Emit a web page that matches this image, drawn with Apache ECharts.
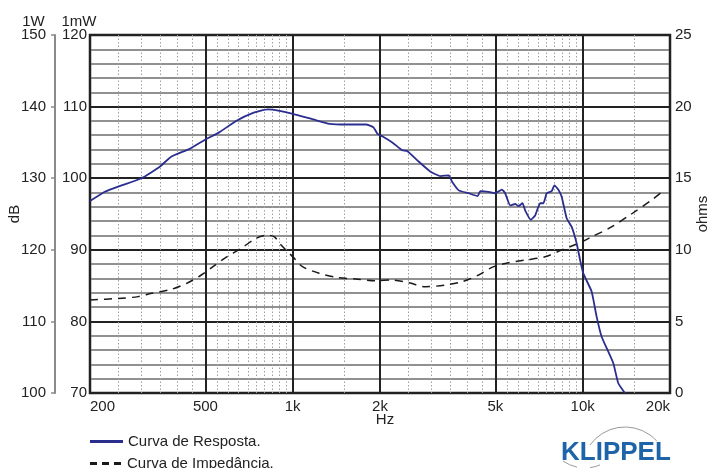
<!DOCTYPE html>
<html><head><meta charset="utf-8">
<script src="https://cdn.jsdelivr.net/npm/echarts@6/dist/echarts.min.js"></script>
<style>html,body{margin:0;padding:0;background:#fff}#c{width:710px;height:468px}</style>
</head><body><div id="c"></div>
<script>
// ---- data ----
const responseFreq = [200,225,253,301,348,381,441,500,558,638,727,820,900,1000,1180,1340,1530,1790,1900,1960,2050,2205,2386,2480,2724,2988,3233,3452,3545,3738,4044,4342,4437,4738,4995,5265,5403,5624,5852,6006,6200,6333,6622,6856,7134,7319,7515,7817,7987,8244,8463,8805,9162,9532,9792,10047,10728,11164,11614,12743,13254,13977];
const responseDb = [126.8,128.1,128.9,130.0,131.6,133.0,134.1,135.4,136.4,138.0,139.1,139.6,139.4,139.0,138.2,137.6,137.5,137.5,137.1,136.2,135.8,135.0,133.9,133.8,132.3,130.9,130.3,130.4,129.5,128.3,127.9,127.5,128.2,128.1,127.9,128.4,127.9,126.2,126.4,126.1,126.5,125.5,124.2,124.8,126.5,126.5,127.9,128.2,129.0,128.4,127.4,124.4,123.2,120.9,118.6,116.7,114.2,110.7,107.9,104.2,101.4,100.0];
const impedanceFreq = [200,250,293,326,382,435,484,531,582,664,748,820,865,912,974,1013,1081,1234,1408,1650,1933,2205,2517,2871,3363,3835,4377,4864,5406,6333,7420,8463,9657,10728,12571,14723,17250,18929];
const impedanceOhm = [6.5,6.6,6.73,6.96,7.24,7.7,8.24,8.82,9.4,10.1,10.8,11.02,10.9,10.33,9.75,9.4,8.82,8.36,8.08,7.96,7.84,7.89,7.7,7.42,7.54,7.77,8.24,8.77,9.05,9.28,9.51,9.98,10.45,10.9,11.6,12.5,13.46,14.1];
const xMajorTicks = [200,500,1000,2000,5000,10000,20000];
const xTickLabels = ['200','500','1k','2k','5k','10k','20k'];
const xMinorTicks = [250,300,350,400,450,550,600,650,700,750,800,850,900,950,1500,2500,3000,3500,4000,4500,5500,6000,6500,7000,7500,8000,8500,9000,9500,15000];
const seriesNames = ['Curva de Resposta.','Curva de Impedância.'];

// ---- chart ----
const FONT = 'Liberation Sans, Arial, sans-serif';
const TXT = '#222';
const lg = Math.log10;
const xMin = 200, xMax = 20000;
const majorLog = xMajorTicks.map(lg);
const minorLog = xMinorTicks.map(lg);
function fmtX(v){
  const f = Math.round(Math.pow(10, v));
  const i = xMajorTicks.findIndex(t => Math.abs(t - f) < 1);
  return i >= 0 ? xTickLabels[i] : '';
}
const chart = echarts.init(document.getElementById('c'), null, {renderer:'canvas'});
const txt = {fontFamily: FONT, fontSize: 15, color: TXT};
const legendBase = {orient: 'vertical', left: 90, padding: 0, itemWidth: 33, itemHeight: 3,
  textStyle: {fontFamily: FONT, fontSize: 15, color: TXT}};
chart.setOption({
  animation: false,
  backgroundColor: '#fff',
  textStyle: {fontFamily: FONT},
  grid: {left: 90, right: 40, top: 35, bottom: 75, outerBoundsMode: 'none', containLabel: false,
    show: true, borderColor: '#222', borderWidth: 2.5, backgroundColor: 'transparent'},
  legend: [
    Object.assign({top: 434, data: [seriesNames[0]], icon: 'rect'}, legendBase),
    Object.assign({top: 456, data: [seriesNames[1]],
      icon: 'path://M0,0h7v3h-7zM12,0h7v3h-7zM24,0h7v3h-7z'}, legendBase)
  ],
  xAxis: [
    {type: 'log', logBase: 10, min: xMin, max: xMax, show: false},
    {type: 'value', min: lg(xMin), max: lg(xMax), position: 'bottom',
      axisLine: {show: false}, axisTick: {show: false, customValues: majorLog},
      axisLabel: Object.assign({customValues: majorLog, formatter: fmtX, margin: 6, alignMinLabel: 'left', alignMaxLabel: 'right'}, txt),
      splitLine: {show: true, lineStyle: {color: '#222', width: 2}},
      name: 'Hz', nameLocation: 'middle', nameGap: 19, nameMoveOverlap: false,
      nameTextStyle: Object.assign({padding: [0, 0, 0, 10]}, txt)},
    {type: 'value', min: lg(xMin), max: lg(xMax), position: 'top',
      axisLine: {show: false}, axisTick: {show: false, customValues: minorLog},
      axisLabel: {show: false},
      splitLine: {show: true, lineStyle: {color: '#a0a0a0', width: 1, type: [1.5, 2]}}}
  ],
  yAxis: [
    {type: 'value', min: 100, max: 150, interval: 10, position: 'left', offset: 35,
      axisLine: {show: true, lineStyle: {color: '#8a8a8a', width: 2}},
      axisTick: {show: true, length: 4, lineStyle: {color: '#8a8a8a', width: 1.5}},
      axisLabel: Object.assign({margin: 9}, txt),
      splitLine: {show: false},
      name: 'dB', nameLocation: 'middle', nameGap: 33, nameRotate: 90, nameMoveOverlap: false, nameTextStyle: txt},
    {type: 'value', min: 70, max: 120, interval: 10, position: 'left',
      axisLine: {show: false}, axisTick: {show: false},
      axisLabel: Object.assign({margin: 3}, txt),
      splitLine: {show: true, lineStyle: {color: '#222', width: 2}},
      minorTick: {show: false, splitNumber: 5},
      minorSplitLine: {show: true, lineStyle: {color: '#6e6e6e', width: 1.5}},
      name: '1mW', nameLocation: 'end', nameGap: 6, nameMoveOverlap: false,
      nameTextStyle: Object.assign({align: 'center', padding: [0, 22, 0, 0]}, txt)},
    {type: 'value', min: 0, max: 25, interval: 5, position: 'right',
      axisLine: {show: false}, axisTick: {show: false},
      axisLabel: Object.assign({margin: 5}, txt),
      splitLine: {show: false},
      name: 'ohms', nameLocation: 'middle', nameGap: 25, nameRotate: 90, nameMoveOverlap: false, nameTextStyle: txt},
    {type: 'value', min: 100, max: 150, interval: 10, position: 'left', offset: 35,
      axisLine: {show: false}, axisTick: {show: false}, axisLabel: {show: false}, splitLine: {show: false},
      name: '1W', nameLocation: 'end', nameGap: 6, nameMoveOverlap: false,
      nameTextStyle: Object.assign({align: 'center', padding: [0, 43, 0, 0]}, txt)}
  ],
  series: [
    {name: seriesNames[0], type: 'line', xAxisIndex: 0, yAxisIndex: 0,
      data: responseFreq.map((f, i) => [f, responseDb[i]]),
      symbol: 'none', smooth: 0.15, z: 5,
      lineStyle: {color: '#2b2e8f', width: 1.8}, itemStyle: {color: '#2b2e8f'}},
    {name: seriesNames[1], type: 'line', xAxisIndex: 0, yAxisIndex: 2,
      data: impedanceFreq.map((f, i) => [f, impedanceOhm[i]]),
      symbol: 'none', smooth: 0.3, z: 4,
      lineStyle: {color: '#1a1a1a', width: 1.5, type: [8, 6]}, itemStyle: {color: '#1a1a1a'}}
  ],
  graphic: [
    {type: 'text', left: 561, top: 440, style: {text: 'KLIPPEL', fill: '#1d64a8', font: 'bold 26px ' + FONT}},
    {type: 'arc', shape: {cx: 625, cy: 470, r: 43, startAngle: -2.52, endAngle: -0.74}, style: {stroke: '#9a9a9a', fill: null, lineWidth: 1}},
    {type: 'arc', shape: {cx: 585, cy: 430, r: 38, startAngle: 1.783, endAngle: 2.19}, style: {stroke: '#9a9a9a', fill: null, lineWidth: 1}},
    {type: 'arc', shape: {cx: 585, cy: 430, r: 38, startAngle: 1.165, endAngle: 1.439}, style: {stroke: '#9a9a9a', fill: null, lineWidth: 1}}
  ]
});
</script></body></html>
